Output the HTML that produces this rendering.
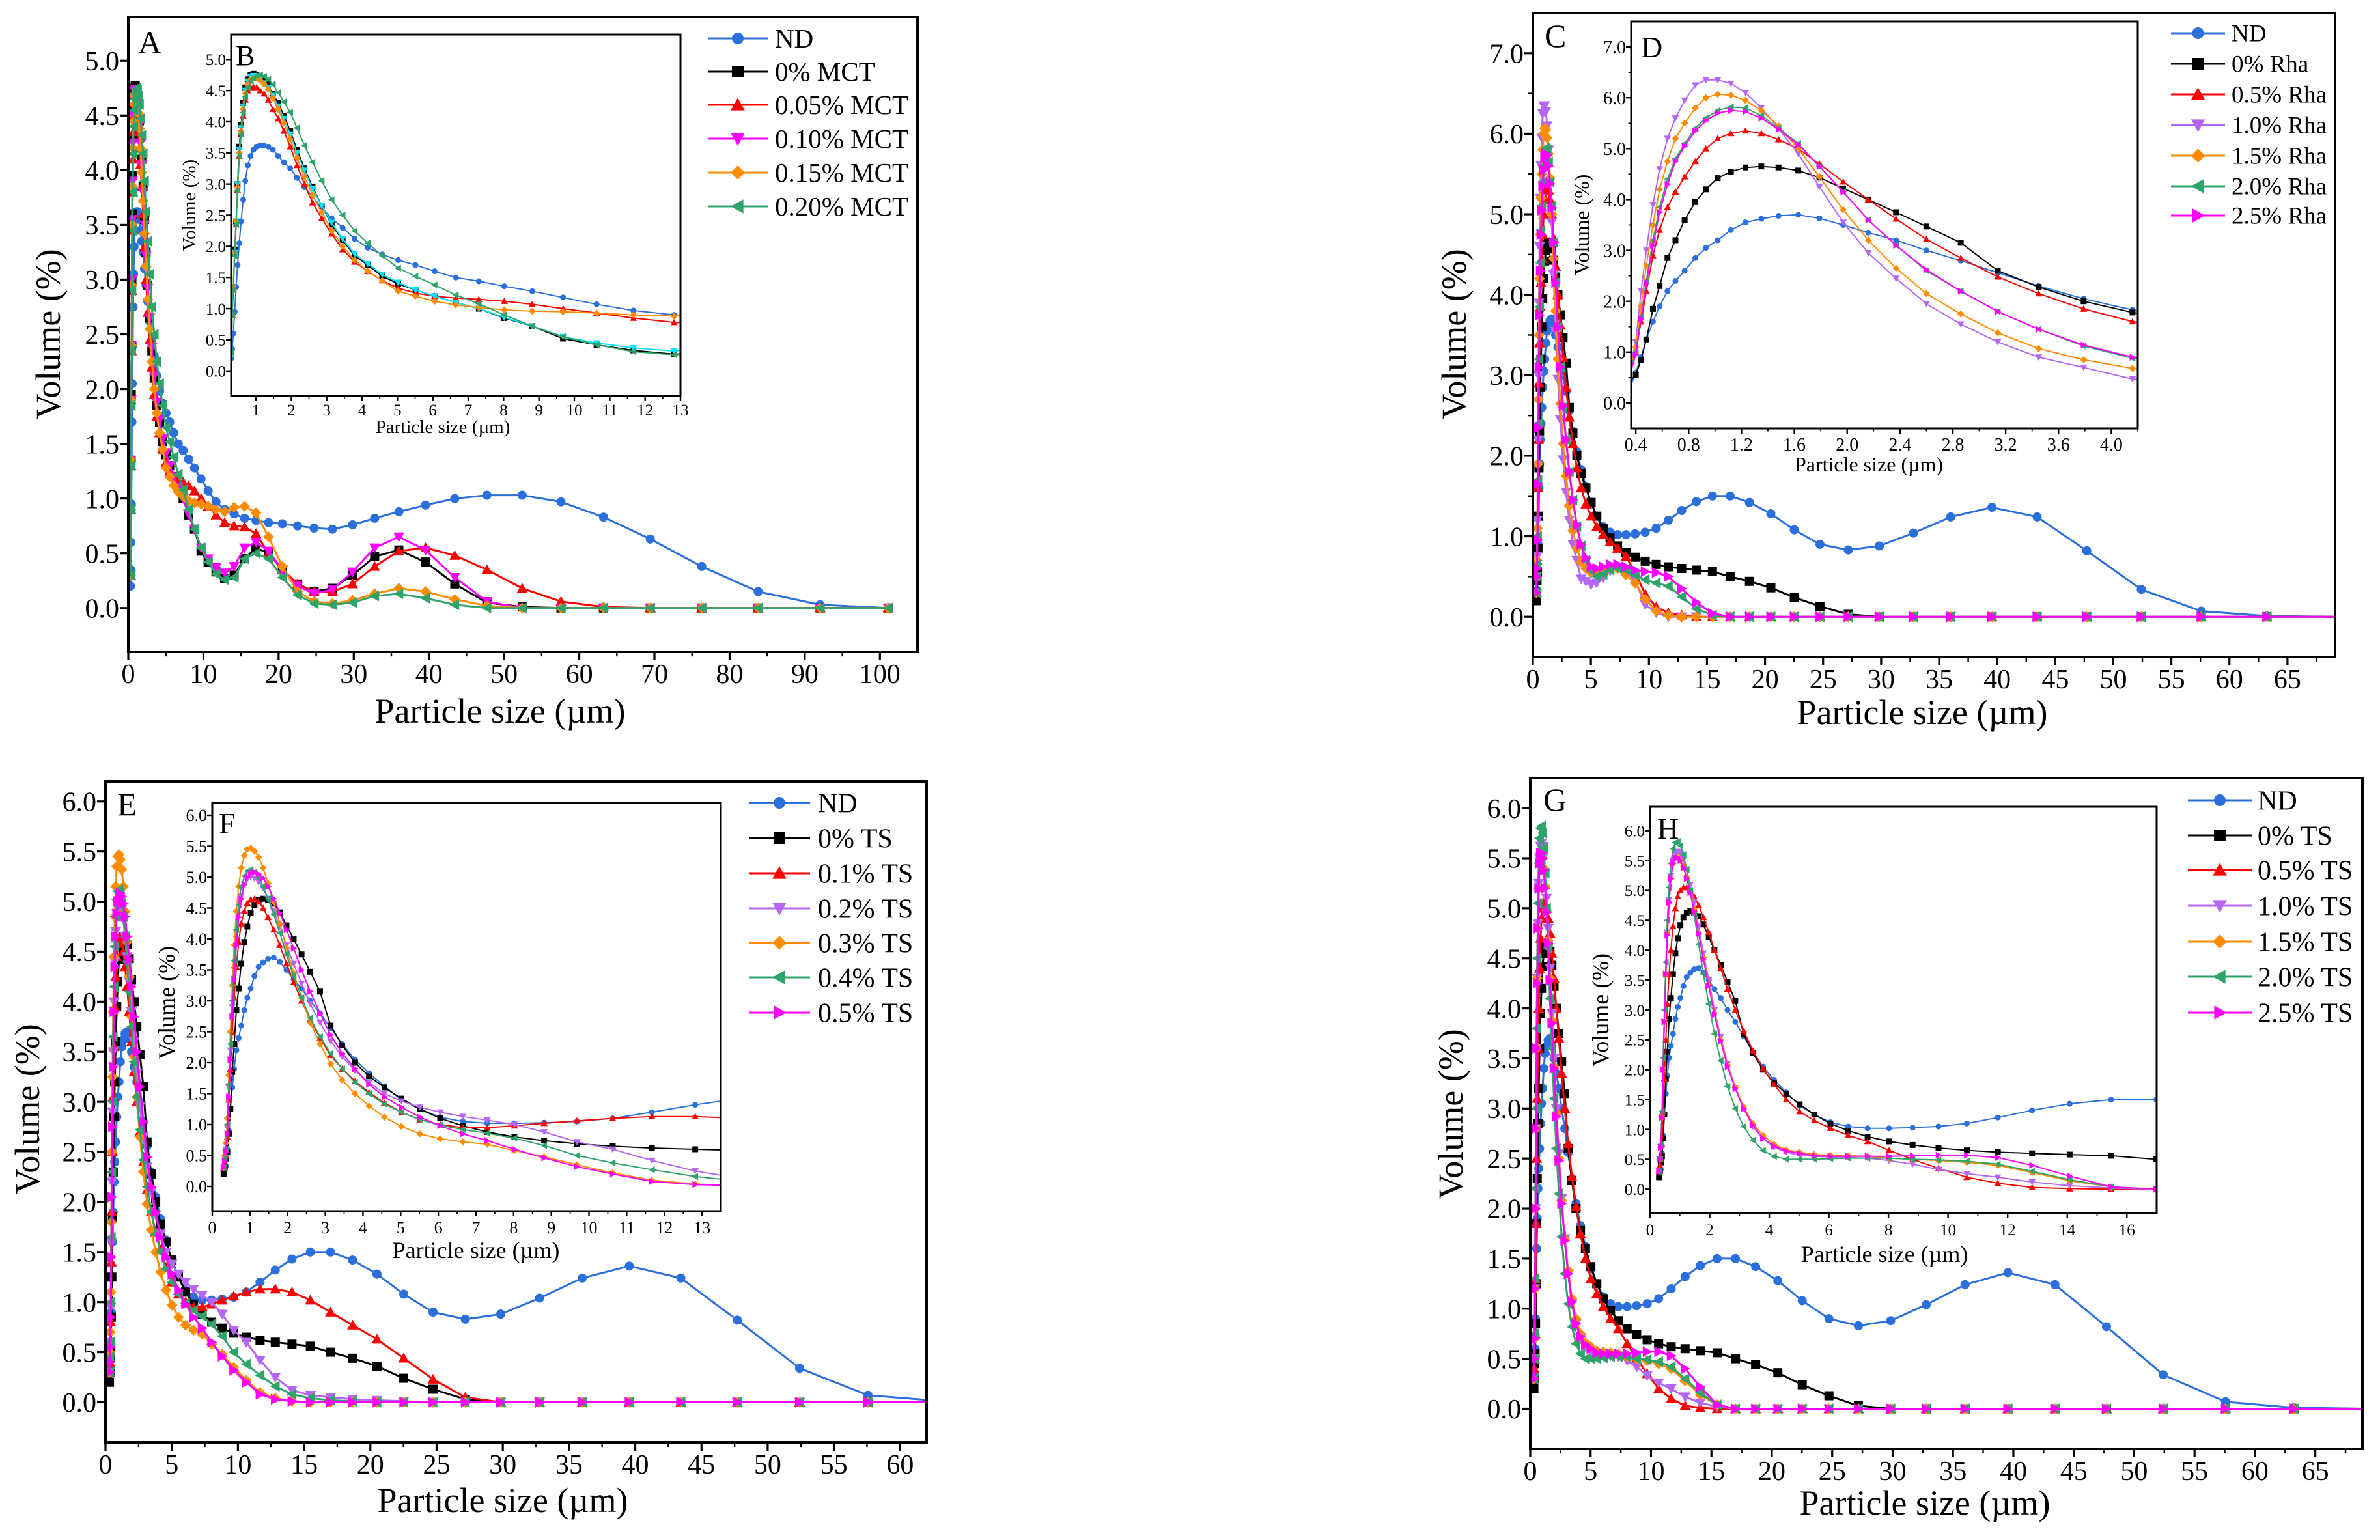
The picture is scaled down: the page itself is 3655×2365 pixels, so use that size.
<!DOCTYPE html>
<html><head><meta charset="utf-8"><style>
html,body{margin:0;padding:0;background:#fff;}
svg{display:block;font-family:"Liberation Serif","DejaVu Serif",serif;}
svg text{font-family:"Liberation Serif","DejaVu Serif",serif;}
</style></head><body>
<svg id="fig" width="3655" height="2365" viewBox="0 0 3655 2365" xmlns="http://www.w3.org/2000/svg" font-family="Liberation Serif, DejaVu Serif, serif">
<rect x="0" y="0" width="3655" height="2365" fill="#fff"/>
</svg>
<script>
// particle size bins (µm)
const sizes=[0.30,0.33,0.36,0.40,0.44,0.48,0.53,0.58,0.64,0.70,0.77,0.85,0.93,1.02,1.12,1.23,1.35,1.48,1.63,1.79,1.97,2.16,2.37,2.60,2.86,3.14,3.45,3.79,4.16,4.57,5.02,5.51,6.05,6.65,7.30,8.02,8.81,9.68,10.63,11.67,12.82,14.08,15.47,16.99,18.66,20.50,22.52,24.73,27.17,29.84,32.78,36.00,39.55,43.44,47.71,52.41,57.57,63.23,69.45,76.29,83.80,92.04,101.1];
// Panel A/B (MCT)
const ndA=[0.2,0.35,0.6,0.95,1.35,1.7,2.05,2.4,2.75,3.05,3.3,3.45,3.55,3.6,3.62,3.62,3.6,3.55,3.45,3.35,3.25,3.1,2.95,2.8,2.62,2.45,2.3,2.12,1.98,1.87,1.78,1.7,1.6,1.5,1.44,1.36,1.28,1.18,1.07,0.97,0.9,0.86,0.82,0.8,0.78,0.77,0.75,0.73,0.72,0.76,0.82,0.88,0.94,1.0,1.03,1.03,0.97,0.83,0.63,0.38,0.15,0.03,0.0];
const mct0=[0.3,0.9,1.35,1.95,2.4,3.0,3.6,3.95,4.3,4.55,4.68,4.75,4.77,4.75,4.72,4.68,4.6,4.45,4.3,4.1,3.85,3.55,3.25,2.95,2.65,2.35,2.1,1.85,1.7,1.52,1.4,1.3,1.2,1.1,1.0,0.85,0.72,0.52,0.42,0.33,0.27,0.3,0.45,0.55,0.5,0.35,0.22,0.15,0.18,0.3,0.47,0.53,0.42,0.22,0.05,0.01,0,0,0,0,0,0,0];
const mct005=[0.3,0.9,1.3,1.9,2.35,2.9,3.45,3.8,4.1,4.35,4.5,4.55,4.56,4.55,4.5,4.45,4.35,4.2,4.05,3.85,3.6,3.3,3.0,2.7,2.45,2.2,1.95,1.75,1.6,1.45,1.33,1.25,1.2,1.17,1.15,1.12,1.07,1.0,0.93,0.85,0.78,0.75,0.74,0.68,0.5,0.35,0.22,0.15,0.15,0.22,0.38,0.52,0.55,0.48,0.35,0.18,0.06,0.01,0,0,0,0,0];
const mct010=[0.3,0.9,1.35,1.9,2.4,3.0,3.55,3.9,4.25,4.5,4.65,4.72,4.74,4.72,4.68,4.62,4.55,4.42,4.25,4.05,3.8,3.5,3.22,2.92,2.65,2.38,2.12,1.88,1.72,1.55,1.42,1.3,1.2,1.1,1.0,0.86,0.72,0.55,0.45,0.37,0.32,0.38,0.55,0.6,0.52,0.35,0.2,0.13,0.17,0.33,0.55,0.65,0.53,0.28,0.06,0,0,0,0,0,0,0,0];
const mct015=[0.3,0.9,1.35,1.9,2.4,2.95,3.5,3.85,4.2,4.45,4.6,4.68,4.7,4.7,4.66,4.6,4.52,4.38,4.2,3.98,3.72,3.42,3.12,2.82,2.55,2.25,2.0,1.78,1.6,1.45,1.28,1.2,1.12,1.06,1.02,0.98,0.96,0.95,0.93,0.9,0.88,0.92,0.93,0.87,0.65,0.38,0.15,0.06,0.04,0.07,0.13,0.18,0.15,0.08,0.02,0,0,0,0,0,0,0,0];
const mct020=[0.3,0.9,1.3,1.85,2.35,2.9,3.45,3.8,4.15,4.4,4.55,4.65,4.7,4.74,4.75,4.73,4.68,4.6,4.47,4.32,4.15,3.9,3.62,3.35,3.05,2.75,2.5,2.25,2.05,1.85,1.65,1.52,1.38,1.22,1.08,0.9,0.72,0.55,0.42,0.31,0.26,0.28,0.45,0.5,0.45,0.28,0.12,0.04,0.03,0.05,0.11,0.13,0.09,0.03,0,0,0,0,0,0,0,0,0];
// shared ND and control for C/E/G
const ndT=[0.2,0.28,0.33,0.6,0.9,1.25,1.6,1.9,2.2,2.4,2.6,2.85,3.05,3.2,3.4,3.55,3.62,3.68,3.7,3.63,3.5,3.35,3.2,3.0,2.8,2.56,2.3,2.05,1.83,1.62,1.4,1.25,1.12,1.05,1.02,1.02,1.03,1.05,1.1,1.2,1.32,1.43,1.5,1.5,1.42,1.28,1.08,0.9,0.83,0.88,1.04,1.24,1.36,1.24,0.82,0.34,0.07,0.01,0,0,0,0,0];
const ctl=[0.2,0.3,0.45,0.55,0.85,1.25,1.85,2.3,2.85,3.2,3.6,3.95,4.2,4.42,4.55,4.63,4.65,4.63,4.57,4.43,4.22,4.0,3.75,3.47,3.15,2.6,2.28,2.0,1.78,1.6,1.42,1.25,1.1,0.98,0.88,0.8,0.74,0.69,0.65,0.62,0.6,0.58,0.56,0.5,0.44,0.36,0.24,0.13,0.03,0,0,0,0,0,0,0,0,0,0,0,0,0,0];
// Panel C/D (Rha)
const rha05=[0.3,0.5,0.7,1.0,1.6,2.2,2.9,3.4,3.85,4.15,4.45,4.75,5.0,5.2,5.3,5.35,5.3,5.18,5.0,4.7,4.35,4.0,3.62,3.22,2.85,2.48,2.15,1.85,1.6,1.4,1.25,1.12,1.02,0.93,0.85,0.75,0.55,0.28,0.12,0.05,0.02,0,0,0,0,0,0,0,0,0,0,0,0,0,0,0,0,0,0,0,0,0,0];
const rha10=[0.3,0.5,0.75,1.2,2.2,3.0,3.9,4.6,5.2,5.6,5.95,6.25,6.35,6.35,6.28,6.1,5.8,5.4,4.9,4.25,3.55,2.95,2.45,1.95,1.55,1.2,0.9,0.7,0.47,0.44,0.4,0.42,0.48,0.57,0.62,0.58,0.45,0.15,0.05,0,0,0,0,0,0,0,0,0,0,0,0,0,0,0,0,0,0,0,0,0,0,0,0];
const rha15=[0.3,0.5,0.7,1.1,1.9,2.7,3.5,4.2,4.75,5.2,5.5,5.8,6.0,6.07,6.05,5.95,5.75,5.45,5.0,4.45,3.8,3.2,2.65,2.15,1.75,1.38,1.07,0.85,0.68,0.6,0.55,0.55,0.57,0.6,0.6,0.52,0.42,0.22,0.07,0.02,0,0,0,0,0,0,0,0,0,0,0,0,0,0,0,0,0,0,0,0,0,0,0];
const rha20=[0.3,0.5,0.65,1.0,1.7,2.4,3.2,3.85,4.4,4.8,5.1,5.4,5.6,5.75,5.82,5.8,5.65,5.4,5.1,4.65,4.15,3.6,3.1,2.6,2.2,1.8,1.45,1.12,0.88,0.7,0.57,0.5,0.53,0.58,0.6,0.58,0.52,0.46,0.42,0.38,0.25,0.1,0.02,0,0,0,0,0,0,0,0,0,0,0,0,0,0,0,0,0,0,0,0];
const rha25=[0.3,0.5,0.6,0.95,1.65,2.35,3.1,3.75,4.3,4.75,5.05,5.35,5.55,5.7,5.75,5.73,5.6,5.38,5.08,4.65,4.15,3.6,3.1,2.62,2.2,1.8,1.45,1.14,0.9,0.73,0.62,0.6,0.62,0.65,0.65,0.62,0.58,0.56,0.55,0.5,0.35,0.18,0.04,0,0,0,0,0,0,0,0,0,0,0,0,0,0,0,0,0,0,0,0];
// Panel E/F (TS 0.1-0.5%)
const ts01=[0.3,0.4,0.5,0.8,1.4,1.9,2.5,3.05,3.55,3.95,4.25,4.45,4.58,4.64,4.65,4.6,4.5,4.35,4.15,3.9,3.6,3.3,3.0,2.7,2.4,2.12,1.9,1.7,1.52,1.35,1.2,1.08,1.0,0.95,0.95,0.98,1.02,1.06,1.1,1.13,1.13,1.1,1.02,0.9,0.77,0.63,0.44,0.23,0.05,0,0,0,0,0,0,0,0,0,0,0,0,0,0];
const ts02=[0.3,0.45,0.6,0.95,1.6,2.2,2.9,3.5,4.0,4.4,4.7,4.88,4.97,5.0,4.98,4.92,4.82,4.65,4.45,4.2,3.9,3.6,3.28,2.95,2.65,2.35,2.1,1.87,1.68,1.5,1.38,1.28,1.2,1.13,1.07,1.0,0.88,0.72,0.6,0.42,0.25,0.12,0.07,0.05,0.03,0.02,0.01,0,0,0,0,0,0,0,0,0,0,0,0,0,0,0,0];
const ts03=[0.3,0.5,0.7,1.1,1.8,2.5,3.25,3.9,4.45,4.85,5.15,5.35,5.45,5.47,5.42,5.32,5.15,4.9,4.6,4.25,3.85,3.45,3.05,2.65,2.3,1.98,1.72,1.5,1.3,1.12,0.97,0.85,0.77,0.72,0.68,0.58,0.48,0.35,0.22,0.1,0.04,0.01,0,0,0,0,0,0,0,0,0,0,0,0,0,0,0,0,0,0,0,0,0];
const ts04=[0.3,0.45,0.6,1.0,1.65,2.3,3.0,3.65,4.15,4.55,4.85,5.02,5.1,5.12,5.08,4.98,4.85,4.65,4.4,4.1,3.75,3.4,3.05,2.72,2.42,2.15,1.9,1.68,1.5,1.33,1.2,1.08,0.99,0.92,0.86,0.78,0.66,0.5,0.38,0.27,0.16,0.08,0.04,0.02,0.01,0,0,0,0,0,0,0,0,0,0,0,0,0,0,0,0,0,0];
const ts05=[0.3,0.4,0.55,0.85,1.45,2.05,2.75,3.35,3.9,4.35,4.65,4.88,5.0,5.06,5.08,5.05,4.98,4.85,4.65,4.42,4.15,3.85,3.5,3.15,2.8,2.45,2.15,1.9,1.65,1.45,1.28,1.12,0.98,0.85,0.74,0.6,0.46,0.32,0.2,0.08,0.03,0.01,0,0,0,0,0,0,0,0,0,0,0,0,0,0,0,0,0,0,0,0,0];
// Panel G/H (TS 0.5-2.5%)
const tsb05=[0.3,0.4,0.5,0.75,1.3,1.85,2.5,3.1,3.6,4.0,4.4,4.7,4.9,5.0,5.05,5.05,5.0,4.9,4.75,4.55,4.3,4.0,3.7,3.35,3.0,2.65,2.32,2.02,1.75,1.5,1.3,1.15,1.02,0.9,0.8,0.65,0.5,0.35,0.2,0.1,0.03,0.01,0,0,0,0,0,0,0,0,0,0,0,0,0,0,0,0,0,0,0,0,0];
const tsb10=[0.3,0.5,0.7,1.2,2.0,2.8,3.6,4.3,4.85,5.25,5.5,5.62,5.65,5.62,5.52,5.35,5.1,4.8,4.4,3.95,3.5,3.0,2.55,2.1,1.7,1.35,1.05,0.85,0.7,0.62,0.57,0.55,0.54,0.53,0.52,0.48,0.42,0.33,0.26,0.2,0.12,0.06,0.02,0,0,0,0,0,0,0,0,0,0,0,0,0,0,0,0,0,0,0,0];
const tsb15=[0.3,0.5,0.7,1.2,2.0,2.8,3.6,4.3,4.8,5.2,5.45,5.55,5.55,5.5,5.4,5.22,4.98,4.68,4.3,3.88,3.42,2.95,2.5,2.08,1.7,1.38,1.1,0.9,0.75,0.66,0.62,0.58,0.57,0.56,0.55,0.52,0.5,0.48,0.45,0.4,0.28,0.14,0.04,0,0,0,0,0,0,0,0,0,0,0,0,0,0,0,0,0,0,0,0];
const tsb20=[0.3,0.5,0.75,1.3,2.2,3.0,3.8,4.5,5.05,5.45,5.7,5.8,5.82,5.75,5.6,5.35,5.0,4.6,4.1,3.6,3.1,2.6,2.15,1.72,1.35,1.05,0.82,0.65,0.55,0.5,0.5,0.5,0.51,0.52,0.52,0.52,0.5,0.49,0.47,0.42,0.3,0.16,0.04,0,0,0,0,0,0,0,0,0,0,0,0,0,0,0,0,0,0,0,0];
const tsb25=[0.3,0.5,0.7,1.2,2.0,2.8,3.6,4.25,4.8,5.2,5.45,5.55,5.55,5.5,5.38,5.2,4.96,4.65,4.28,3.85,3.4,2.92,2.48,2.05,1.68,1.35,1.07,0.85,0.72,0.64,0.6,0.56,0.55,0.55,0.55,0.55,0.56,0.57,0.57,0.53,0.4,0.22,0.04,0,0,0,0,0,0,0,0,0,0,0,0,0,0,0,0,0,0,0,0];

const C={nd:'#2a6fdb',k:'#000',r:'#ff0000',m:'#ff00ff',o:'#ff8c00',g:'#2ea36a',v:'#b566f5',c:'#00e5ff'};
const NS='http://www.w3.org/2000/svg';
const FONT='Liberation Serif, DejaVu Serif, serif';
const svg=document.getElementById('fig');
function mk(tag,attrs,parent){const e=document.createElementNS(NS,tag);for(const k in attrs)e.setAttribute(k,attrs[k]);(parent||svg).appendChild(e);return e;}
function txt(s,x,y,size,anchor,parent,name,rot){const t=mk('text',{x:x,y:y,'font-size':size,'text-anchor':anchor||'middle',fill:'#000','font-family':FONT},parent);t.textContent=s;if(rot)t.setAttribute('transform','rotate(-90 '+x+' '+y+')');


return t;}
function marker(type,cx,cy,r,color,parent){let e;
 if(type==='circle')e=mk('circle',{cx:cx,cy:cy,r:r,fill:color},parent);
 else if(type==='square')e=mk('rect',{x:cx-r,y:cy-r,width:2*r,height:2*r,fill:color},parent);
 else{let p;const s=r*1.2;
  if(type==='up')p=[[cx,cy-s],[cx+s,cy+s*0.8],[cx-s,cy+s*0.8]];
  else if(type==='down')p=[[cx,cy+s],[cx+s,cy-s*0.8],[cx-s,cy-s*0.8]];
  else if(type==='left')p=[[cx-s,cy],[cx+s*0.8,cy-s],[cx+s*0.8,cy+s]];
  else if(type==='right')p=[[cx+s,cy],[cx-s*0.8,cy-s],[cx-s*0.8,cy+s]];
  else p=[[cx,cy-s],[cx+s,cy],[cx,cy+s],[cx-s,cy]];
  e=mk('polygon',{points:p.map(q=>q.join(',')).join(' '),fill:color},parent);}
 
 
 return e;}
let clipId=0;
function axes(cfg,parent,name){
 const g=mk('g',{},parent);
 
 
 const [x0,y0,x1,y1]=cfg.frame;
 const sx=v=>x0+(v-cfg.xd[0])/(cfg.xd[1]-cfg.xd[0])*(x1-x0);
 const sy=v=>y1-(v-cfg.yd[0])/(cfg.yd[1]-cfg.yd[0])*(y1-y0);
 mk('rect',{x:x0,y:y0,width:x1-x0,height:y1-y0,fill:'#fff'},g);
 const id='clip'+(clipId++);
 const cp=mk('clipPath',{id:id},g);mk('rect',{x:x0,y:y0,width:x1-x0,height:y1-y0},cp);
 const plot=mk('g',{'clip-path':'url(#'+id+')'},g);
 cfg.series.forEach(s=>{
  const sg=mk('g',{},plot);
  
  
  const col=(cfg.colorOverride&&cfg.colorOverride[s.name])||s.color;
  const pts=[];
  s.data.forEach((v,i)=>{const xv=sizes[i];if(xv<cfg.xd[0]*0.8)return;pts.push([sx(xv),sy(v)]);});
  if(cfg.extend)pts.push([x1+50,sy(0)]);
  mk('polyline',{points:pts.map(p=>p[0].toFixed(1)+','+p[1].toFixed(1)).join(' '),fill:'none',stroke:col,'stroke-width':cfg.lw},sg);
  s.data.forEach((v,i)=>{const xv=sizes[i];if(xv<cfg.xd[0]||xv>cfg.xd[1])return;marker(s.marker,sx(xv),sy(v),cfg.mr,col,sg);});
 });
 mk('rect',{x:x0,y:y0,width:x1-x0,height:y1-y0,fill:'none',stroke:'#000','stroke-width':cfg.fw},g);
 const xt=cfg.xt, yt=cfg.yt;
 for(let v=xt[0];v<=xt[1]+1e-9;v+=xt[2]){const X=sx(v);mk('line',{x1:X,y1:y1,x2:X,y2:y1+cfg.tl,stroke:'#000','stroke-width':cfg.fw*0.8},g);
  txt(v.toFixed(xt[3]),X,y1+cfg.xlo,cfg.tf,'middle',g,'x-tick-label');
  const mv=v+xt[2]/2;if(mv<cfg.xd[1]&&mv<=xt[1]+xt[2]){const MX=sx(mv);mk('line',{x1:MX,y1:y1,x2:MX,y2:y1+cfg.tl*0.55,stroke:'#000','stroke-width':cfg.fw*0.6},g);}}
 for(let v=yt[0];v<=yt[1]+1e-9;v+=yt[2]){const Y=sy(v);mk('line',{x1:x0,y1:Y,x2:x0-cfg.tl,y2:Y,stroke:'#000','stroke-width':cfg.fw*0.8},g);
  txt(v.toFixed(1),x0-cfg.ylo,Y+cfg.tf*0.35,cfg.tf,'end',g,'y-tick-label');
  const mv=v+yt[2]/2;if(mv<cfg.yd[1]&&yt[4]){const MY=sy(mv);mk('line',{x1:x0,y1:MY,x2:x0-cfg.tl*0.55,y2:MY,stroke:'#000','stroke-width':cfg.fw*0.6},g);}}
 txt('Particle size (\u00b5m)',cfg.xtitle[0],cfg.xtitle[1],cfg.af,'middle',g,'x-axis-title');
 txt('Volume (%)',cfg.ytitle[0],cfg.ytitle[1],cfg.af,'middle',g,'y-axis-title',true);
 txt(cfg.letter,cfg.lp[0],cfg.lp[1],cfg.lf,'start',g,'panel-label');
 return g;}
function legend(series,L,parent){
 const g=mk('g',{},parent);
 
 
 series.forEach((s,i)=>{const y=L.ys[i];
  const e=mk('g',{},g);
  
  
  mk('line',{x1:L.x0,y1:y,x2:L.x1,y2:y,stroke:s.color,'stroke-width':3},e);
  marker(s.marker,(L.x0+L.x1)/2,y,9,s.color,e);
  txt(s.name,L.tx,y+L.f*0.34,L.f,'start',e,'legend-label');});}

function panel(name,main,inset,leg){
 const g=mk('g',{});
 
 
 axes(main,g,'main-plot');
 axes(inset,g,'inset-plot');
 legend(main.series,leg,g);}

const sA=[{name:'ND',data:ndA,color:C.nd,marker:'circle'},{name:'0% MCT',data:mct0,color:C.k,marker:'square'},{name:'0.05% MCT',data:mct005,color:C.r,marker:'up'},{name:'0.10% MCT',data:mct010,color:C.m,marker:'down'},{name:'0.15% MCT',data:mct015,color:C.o,marker:'diamond'},{name:'0.20% MCT',data:mct020,color:C.g,marker:'left'}];
const sC=[{name:'ND',data:ndT,color:C.nd,marker:'circle'},{name:'0% Rha',data:ctl,color:C.k,marker:'square'},{name:'0.5% Rha',data:rha05,color:C.r,marker:'up'},{name:'1.0% Rha',data:rha10,color:C.v,marker:'down'},{name:'1.5% Rha',data:rha15,color:C.o,marker:'diamond'},{name:'2.0% Rha',data:rha20,color:C.g,marker:'left'},{name:'2.5% Rha',data:rha25,color:C.m,marker:'right'}];
const sE=[{name:'ND',data:ndT,color:C.nd,marker:'circle'},{name:'0% TS',data:ctl,color:C.k,marker:'square'},{name:'0.1% TS',data:ts01,color:C.r,marker:'up'},{name:'0.2% TS',data:ts02,color:C.v,marker:'down'},{name:'0.3% TS',data:ts03,color:C.o,marker:'diamond'},{name:'0.4% TS',data:ts04,color:C.g,marker:'left'},{name:'0.5% TS',data:ts05,color:C.m,marker:'right'}];
const sG=[{name:'ND',data:ndT,color:C.nd,marker:'circle'},{name:'0% TS',data:ctl,color:C.k,marker:'square'},{name:'0.5% TS',data:tsb05,color:C.r,marker:'up'},{name:'1.0% TS',data:tsb10,color:C.v,marker:'down'},{name:'1.5% TS',data:tsb15,color:C.o,marker:'diamond'},{name:'2.0% TS',data:tsb20,color:C.g,marker:'left'},{name:'2.5% TS',data:tsb25,color:C.m,marker:'right'}];

const M={lw:3,mr:7,fw:4,tl:13,tf:42,af:54,lf:50,xlo:48,ylo:14};
const I={lw:2,mr:4.5,fw:3,tl:8,tf:25,af:29,lf:50,xlo:30,ylo:8};

panel('panel-a',Object.assign({},M,{frame:[197,26,1409,1001],xd:[0,105],yd:[-0.4,5.4],xt:[0,100,10,0],yt:[0,5,0.5,1,0],series:sA,xtitle:[768,1110],ytitle:[92,513],letter:'A',lp:[212,82]}),
 Object.assign({},I,{frame:[355,53,1045,608],xd:[0.3,13],yd:[-0.4,5.4],xt:[1,13,1,0],yt:[0,5,0.5,1,0],series:sA,colorOverride:{'0.10% MCT':C.c},xtitle:[680,665],ytitle:[300,315],letter:'B',lp:[362,100],lf:44}),
 {ys:[59,110,161,213,265,317],x0:1087,x1:1179,tx:1190,f:41});

panel('panel-c',Object.assign({},M,{frame:[2354,20,3586,1009],xd:[0,69.1],yd:[-0.5,7.5],xt:[0,65,5,0],yt:[0,7,1,1,1],series:sC,extend:true,xtitle:[2952,1112],ytitle:[2251,513],letter:'C',lp:[2372,72]}),
 Object.assign({},I,{frame:[2505,33,3283,658],xd:[0.365,4.2],yd:[-0.5,7.5],xt:[0.4,4.0,0.4,1],yt:[0,7,1,1,1],series:sC,tf:28,af:32,xtitle:[2870,724],ytitle:[2440,345],letter:'D',lp:[2520,88],lf:46,xlo:34}),
 {ys:[51,98,145,192,239,286,331],x0:3334,x1:3417,tx:3427,f:37});

panel('panel-e',Object.assign({},M,{frame:[162,1200,1423,2215],xd:[0,62],yd:[-0.4,6.2],xt:[0,60,5,0],yt:[0,6,0.5,1,0],series:sE,extend:true,xtitle:[772,2322],ytitle:[60,1703],letter:'E',lp:[180,1252]}),
 Object.assign({},I,{frame:[326,1233,1107,1860],xd:[0,13.5],yd:[-0.4,6.2],xt:[0,13,1,0],yt:[0,6,0.5,1,0],series:sE,tf:26,af:36,xtitle:[731,1932],ytitle:[268,1540],letter:'F',lp:[336,1280],lf:46,xlo:34}),
 {ys:[1233,1287,1341,1395,1448,1501,1555],x0:1150,x1:1244,tx:1256,f:42});

panel('panel-g',Object.assign({},M,{frame:[2350,1195,3628,2225],xd:[0,68.9],yd:[-0.4,6.3],xt:[0,65,5,0],yt:[0,6,0.5,1,0],series:sG,extend:true,xtitle:[2956,2326],ytitle:[2246,1711],letter:'G',lp:[2370,1245]}),
 Object.assign({},I,{frame:[2534,1239,3312,1863],xd:[0,17],yd:[-0.4,6.4],xt:[0,16,2,0],yt:[0,6,0.5,1,0],series:sG,tf:25,af:36,xtitle:[2894,1938],ytitle:[2470,1551],letter:'H',lp:[2545,1288],lf:46,xlo:34}),
 {ys:[1229,1283,1336,1391,1446,1500,1555],x0:3360,x1:3458,tx:3467,f:42});
</script>
</body></html>
